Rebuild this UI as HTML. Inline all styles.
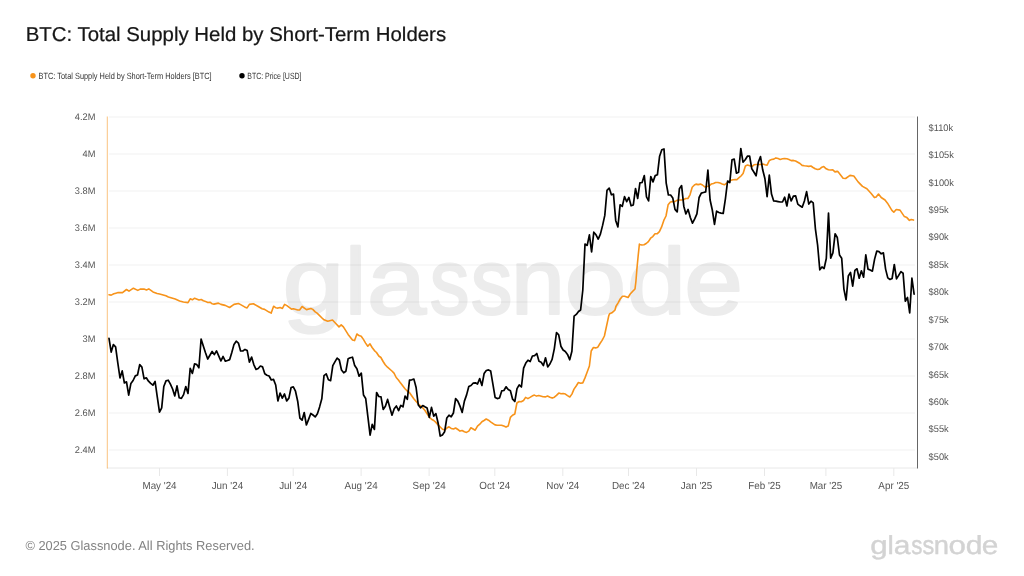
<!DOCTYPE html>
<html lang="en"><head><meta charset="utf-8"><title>BTC: Total Supply Held by Short-Term Holders</title>
<style>
html,body{margin:0;padding:0;background:#fff;}
body{width:1024px;height:576px;overflow:hidden;}
svg{display:block;font-family:"Liberation Sans",Arial,sans-serif;text-rendering:geometricPrecision;}
</style></head><body>
<svg width="1024" height="576" viewBox="0 0 1024 576">
<rect width="1024" height="576" fill="#ffffff"/>
<text y="314" font-size="94.00" fill="#ececec" stroke="#ececec" stroke-width="2.20" stroke-linejoin="round"><tspan x="282.63" textLength="61.83" lengthAdjust="spacingAndGlyphs">g</tspan><tspan x="345.00" textLength="21.16" lengthAdjust="spacingAndGlyphs">l</tspan><tspan x="366.93" textLength="59.12" lengthAdjust="spacingAndGlyphs">a</tspan><tspan x="429.72" textLength="39.72" lengthAdjust="spacingAndGlyphs">s</tspan><tspan x="470.86" textLength="41.68" lengthAdjust="spacingAndGlyphs">s</tspan><tspan x="511.10" textLength="53.85" lengthAdjust="spacingAndGlyphs">n</tspan><tspan x="564.64" textLength="61.72" lengthAdjust="spacingAndGlyphs">o</tspan><tspan x="626.77" textLength="59.36" lengthAdjust="spacingAndGlyphs">d</tspan><tspan x="684.25" textLength="58.70" lengthAdjust="spacingAndGlyphs">e</tspan></text>
<g stroke="#000" stroke-opacity="0.055" stroke-width="1" fill="none">
<line x1="109" x2="915" y1="117.00" y2="117.00"/>
<line x1="109" x2="915" y1="154.00" y2="154.00"/>
<line x1="109" x2="915" y1="191.00" y2="191.00"/>
<line x1="109" x2="915" y1="228.00" y2="228.00"/>
<line x1="109" x2="915" y1="265.00" y2="265.00"/>
<line x1="109" x2="915" y1="302.00" y2="302.00"/>
<line x1="109" x2="915" y1="339.00" y2="339.00"/>
<line x1="109" x2="915" y1="376.00" y2="376.00"/>
<line x1="109" x2="915" y1="413.00" y2="413.00"/>
<line x1="109" x2="915" y1="450.00" y2="450.00"/>
</g>
<g stroke="#e8e8e8" stroke-width="1" fill="none">
<line x1="107" x2="917" y1="468" y2="468"/>
<line x1="159.5" x2="159.5" y1="468" y2="476"/>
<line x1="227.4" x2="227.4" y1="468" y2="476"/>
<line x1="293.2" x2="293.2" y1="468" y2="476"/>
<line x1="361.1" x2="361.1" y1="468" y2="476"/>
<line x1="429.1" x2="429.1" y1="468" y2="476"/>
<line x1="494.8" x2="494.8" y1="468" y2="476"/>
<line x1="562.8" x2="562.8" y1="468" y2="476"/>
<line x1="628.5" x2="628.5" y1="468" y2="476"/>
<line x1="696.5" x2="696.5" y1="468" y2="476"/>
<line x1="764.5" x2="764.5" y1="468" y2="476"/>
<line x1="825.9" x2="825.9" y1="468" y2="476"/>
<line x1="893.8" x2="893.8" y1="468" y2="476"/>
</g>
<line x1="107.3" x2="107.3" y1="116.5" y2="468.5" stroke="#f7931a" stroke-opacity="0.55" stroke-width="1"/>
<line x1="917.5" x2="917.5" y1="116.5" y2="468.5" stroke="#666" stroke-width="1"/>
<path d="M109.0,294.8 L111.2,295.1 L113.8,293.8 L115.9,293.2 L118.1,292.6 L122.5,292.6 L126.5,289.5 L129.0,291.2 L133.4,288.2 L137.8,290.4 L140.2,289.1 L144.0,289.1 L146.5,290.0 L148.8,288.9 L153.0,291.9 L157.1,293.5 L159.6,294.0 L165.9,295.8 L168.4,297.0 L175.2,299.1 L179.6,300.9 L183.4,302.0 L188.0,302.6 L190.2,298.8 L192.4,299.8 L194.6,298.2 L199.0,300.0 L201.2,299.5 L203.4,300.8 L205.5,301.4 L207.8,302.5 L210.0,302.2 L212.2,303.8 L214.0,304.1 L218.4,303.1 L220.9,304.4 L225.2,305.4 L229.6,307.5 L234.0,304.4 L238.4,303.5 L240.2,304.4 L244.6,306.9 L247.1,307.9 L249.4,304.4 L253.4,303.8 L257.8,306.2 L262.1,308.8 L264.6,309.4 L269.0,312.1 L271.2,313.1 L273.6,306.2 L275.9,307.8 L278.0,308.1 L280.2,307.5 L282.4,308.4 L284.6,304.4 L286.9,305.6 L291.5,309.1 L293.4,308.8 L297.8,310.0 L299.6,310.0 L302.1,306.5 L306.5,309.6 L310.9,308.5 L312.8,309.4 L315.2,311.9 L317.1,313.1 L321.5,317.5 L324.0,319.8 L327.8,321.2 L332.5,320.0 L334.6,322.2 L339.0,326.9 L341.2,324.8 L343.4,326.9 L348.1,334.4 L352.5,340.0 L354.6,340.6 L356.9,334.0 L359.0,335.6 L361.2,336.2 L363.4,339.4 L365.6,343.1 L367.8,346.2 L370.0,343.8 L372.1,347.5 L374.4,350.6 L376.5,352.5 L378.8,356.0 L380.9,357.5 L383.1,361.5 L385.2,364.8 L387.5,367.2 L391.9,371.0 L394.0,373.1 L396.2,377.5 L398.4,380.0 L400.6,383.1 L405.0,388.8 L407.2,391.0 L409.4,392.5 L413.8,398.8 L418.1,403.8 L422.5,407.5 L425.0,410.5 L429.4,417.4 L431.5,419.2 L433.8,420.5 L435.9,422.4 L438.1,424.9 L442.5,429.2 L445.0,429.9 L446.9,428.0 L449.0,426.8 L451.2,428.4 L453.5,429.0 L455.6,428.0 L457.9,429.5 L460.0,431.1 L462.1,430.5 L464.4,431.8 L466.5,432.4 L468.8,431.1 L470.9,427.8 L473.1,429.0 L475.2,430.2 L477.5,426.1 L479.8,424.2 L481.9,421.8 L484.0,420.5 L486.2,419.0 L488.5,420.2 L490.6,421.8 L495.0,424.9 L497.2,425.2 L501.5,425.2 L503.8,426.1 L506.0,427.1 L508.2,426.1 L510.4,417.4 L512.5,415.2 L514.8,414.0 L516.9,403.0 L519.1,401.5 L521.2,401.8 L523.5,400.5 L525.6,397.4 L527.9,398.6 L530.0,397.4 L532.1,396.1 L534.4,395.1 L536.5,396.1 L538.8,395.5 L543.1,396.8 L545.6,396.9 L547.5,396.0 L550.0,397.2 L552.2,398.1 L554.4,397.2 L556.5,395.4 L558.8,393.1 L561.0,393.8 L563.1,393.5 L565.4,394.1 L567.5,395.6 L569.8,397.0 L571.9,394.1 L574.0,389.1 L576.2,386.0 L578.4,382.5 L580.6,383.2 L582.8,382.9 L585.0,377.9 L587.1,372.2 L589.4,366.0 L591.2,351.0 L593.4,347.5 L595.6,347.9 L597.8,347.2 L600.0,343.5 L602.1,340.4 L604.4,336.0 L608.8,315.6 L609.6,313.8 L611.9,312.8 L613.8,311.2 L615.0,310.0 L615.9,306.5 L618.1,302.8 L620.2,299.0 L622.5,296.2 L624.6,296.2 L628.1,297.5 L630.2,294.0 L632.5,291.5 L635.0,289.0 L635.9,281.5 L636.9,269.0 L638.1,256.5 L639.4,244.0 L639.6,244.5 L641.9,245.0 L644.0,244.8 L646.2,243.5 L648.4,241.6 L650.6,238.2 L652.8,236.6 L655.0,233.8 L657.1,233.8 L659.4,231.6 L661.5,227.2 L663.8,220.4 L666.0,216.0 L668.1,204.8 L670.4,202.0 L672.5,201.6 L674.8,201.6 L676.9,200.4 L679.1,200.0 L681.2,200.0 L683.5,199.8 L685.6,198.5 L687.9,198.5 L690.0,194.8 L692.2,187.2 L694.4,185.0 L696.0,184.1 L698.1,184.6 L700.4,184.1 L702.5,185.0 L704.8,186.9 L706.9,186.5 L709.1,186.0 L711.2,184.1 L713.5,183.5 L715.6,182.5 L717.9,182.5 L720.0,183.1 L722.2,184.0 L724.4,184.8 L726.6,183.1 L728.8,181.9 L731.0,180.2 L733.1,179.8 L735.4,179.6 L736.6,179.8 L738.8,177.9 L741.0,176.0 L743.1,173.5 L745.4,166.0 L747.5,165.1 L749.8,165.8 L751.9,166.6 L754.0,164.8 L756.2,164.5 L760.6,164.5 L762.8,164.1 L765.0,164.8 L767.1,165.1 L769.4,160.4 L771.5,159.5 L773.8,159.1 L775.9,157.9 L778.1,158.5 L780.2,159.4 L782.5,158.8 L784.6,158.5 L786.9,158.8 L789.0,159.5 L791.2,160.6 L793.4,160.4 L795.6,161.0 L800.0,163.5 L802.1,165.4 L804.4,165.8 L806.5,166.0 L808.8,166.4 L810.9,166.0 L813.1,167.5 L815.2,168.8 L817.5,169.5 L819.6,169.1 L821.9,167.2 L823.8,166.6 L826.2,168.8 L828.4,169.8 L830.6,170.0 L832.8,169.8 L835.0,171.9 L837.1,171.4 L838.0,171.6 L839.4,173.5 L843.1,178.2 L845.6,178.5 L850.0,175.4 L853.8,176.0 L858.1,181.9 L862.5,186.4 L866.9,188.8 L871.2,193.5 L874.4,197.6 L876.2,197.0 L878.5,194.1 L881.2,197.5 L885.0,200.0 L887.5,203.2 L891.9,210.4 L893.8,212.2 L896.2,209.5 L900.0,210.1 L904.4,216.6 L906.9,217.6 L909.4,220.4 L911.2,219.5 L913.5,220.1" fill="none" stroke="#f7931a" stroke-width="1.6" stroke-linejoin="round" stroke-linecap="round"/>
<path d="M109.0,338.4 L111.2,352.1 L113.4,344.6 L115.6,346.8 L117.8,362.8 L120.0,378.0 L122.2,370.9 L124.4,383.0 L126.5,381.8 L128.7,395.2 L130.9,383.4 L133.1,380.5 L135.3,375.9 L137.5,375.0 L139.7,364.6 L141.9,367.1 L144.1,378.8 L146.3,377.8 L148.5,381.2 L150.7,383.4 L152.9,385.2 L155.1,381.5 L157.3,397.1 L159.5,412.1 L161.7,407.8 L163.8,386.5 L166.0,380.9 L168.2,380.2 L170.4,384.2 L172.6,389.0 L174.8,395.9 L177.0,385.9 L179.2,397.8 L181.4,398.4 L183.6,394.6 L185.8,386.5 L188.0,393.4 L190.2,368.4 L192.4,373.4 L194.6,363.8 L196.8,364.6 L198.9,367.8 L201.1,339.0 L203.3,345.9 L205.5,352.8 L207.7,359.0 L209.9,355.2 L212.1,351.5 L214.3,354.6 L216.5,350.9 L218.7,355.9 L220.9,360.9 L223.1,356.5 L225.3,361.2 L227.5,360.5 L229.7,359.6 L231.8,352.5 L234.0,344.4 L236.2,341.2 L238.4,343.1 L240.6,351.0 L242.8,351.0 L245.0,349.4 L247.2,350.6 L249.4,362.2 L251.6,357.1 L253.8,364.6 L256.0,369.4 L258.2,368.5 L260.4,366.0 L262.6,366.9 L264.8,373.8 L266.9,375.2 L269.1,376.0 L271.3,380.0 L273.5,379.4 L275.7,385.0 L277.9,401.0 L280.1,393.1 L282.3,398.1 L284.5,394.0 L286.7,400.9 L288.9,398.1 L291.1,387.5 L293.3,386.9 L295.5,391.2 L297.7,401.2 L299.9,418.1 L302.1,420.2 L304.2,412.5 L306.4,425.0 L308.6,419.4 L310.8,413.5 L313.0,415.0 L315.2,416.9 L317.4,413.8 L319.6,406.9 L321.8,398.8 L324.0,375.6 L326.2,373.8 L328.4,379.8 L330.6,380.6 L332.8,365.6 L334.9,361.9 L337.1,358.1 L339.3,360.0 L341.5,370.0 L343.7,372.8 L345.9,371.2 L348.1,358.8 L350.3,357.8 L352.5,357.2 L354.7,365.6 L356.9,368.8 L359.1,376.2 L361.3,373.1 L363.5,395.0 L365.7,398.5 L367.9,416.9 L370.1,435.2 L372.2,424.4 L374.4,429.4 L376.6,392.5 L378.8,396.5 L381.0,396.9 L383.2,409.4 L385.4,406.2 L387.6,399.4 L389.8,407.5 L392.0,415.2 L394.2,408.8 L396.4,406.0 L398.6,410.6 L400.8,405.4 L403.0,406.9 L405.1,396.0 L407.3,399.4 L409.5,380.2 L411.7,379.8 L413.9,379.1 L416.1,387.5 L418.3,405.0 L420.5,407.8 L422.7,405.5 L424.9,406.8 L427.1,408.0 L429.3,417.4 L431.5,407.4 L433.7,416.1 L435.9,413.6 L438.1,423.0 L440.2,436.1 L442.4,434.9 L444.6,431.8 L446.8,418.0 L449.0,415.2 L451.2,416.8 L453.4,413.0 L455.6,398.6 L457.8,401.1 L460.0,406.1 L462.2,412.4 L464.4,401.1 L466.6,394.9 L468.8,386.5 L471.0,385.5 L473.1,383.2 L475.4,382.8 L477.5,384.0 L479.7,378.6 L481.9,385.5 L484.1,373.6 L486.3,370.5 L488.5,369.9 L490.7,371.1 L492.9,384.2 L495.1,397.4 L497.3,398.6 L499.5,398.0 L501.7,390.9 L503.9,390.5 L506.1,386.8 L508.2,389.5 L510.4,390.8 L512.6,399.2 L514.8,401.5 L517.0,388.6 L519.2,384.9 L521.4,387.0 L523.6,368.1 L525.8,363.1 L528.0,360.2 L530.2,361.5 L532.4,356.0 L534.6,355.6 L536.8,353.5 L539.0,361.2 L541.2,362.2 L543.4,365.6 L545.5,357.8 L547.7,366.9 L549.9,364.0 L552.1,359.4 L554.3,348.8 L556.5,332.5 L558.7,334.8 L560.9,346.2 L563.1,350.0 L565.3,351.5 L567.5,354.4 L569.7,359.8 L571.9,351.2 L574.1,316.2 L576.3,314.4 L578.5,311.5 L580.6,310.0 L582.8,290.0 L585.0,244.1 L587.2,245.4 L589.4,234.8 L591.6,252.0 L593.8,232.2 L596.0,234.8 L598.2,239.1 L600.4,234.1 L602.6,225.4 L604.8,215.4 L607.0,190.4 L609.2,188.1 L611.4,194.8 L613.5,194.1 L615.7,220.4 L617.9,227.0 L620.1,204.8 L622.3,206.4 L624.5,196.6 L626.7,201.6 L628.9,197.5 L631.1,205.8 L633.3,205.0 L635.5,188.5 L637.7,198.5 L639.9,182.9 L642.1,182.5 L644.3,175.6 L646.5,196.9 L648.6,200.9 L650.8,176.5 L653.0,181.9 L655.2,175.6 L657.4,174.8 L659.6,156.2 L661.8,149.8 L664.0,149.0 L666.2,183.1 L668.4,195.0 L670.6,195.0 L672.8,198.1 L675.0,209.4 L677.2,211.9 L679.4,188.8 L681.6,185.6 L683.8,206.2 L685.9,214.0 L688.1,209.4 L690.3,217.5 L692.5,223.1 L694.7,218.8 L696.9,213.8 L699.1,197.5 L701.3,193.1 L703.5,192.5 L705.7,191.9 L707.9,170.0 L710.1,200.0 L712.3,210.0 L714.5,224.4 L716.6,211.2 L718.9,212.5 L721.0,213.1 L723.2,213.5 L725.4,198.8 L727.6,181.0 L729.8,182.5 L732.0,159.8 L734.2,159.1 L736.4,173.2 L738.6,172.2 L740.8,148.5 L743.0,162.2 L745.2,159.8 L747.4,156.2 L749.6,156.0 L751.8,168.8 L754.0,172.2 L756.1,175.8 L758.3,162.2 L760.5,156.6 L762.7,169.8 L764.9,178.5 L767.1,196.6 L769.3,175.0 L771.5,194.1 L773.7,201.0 L775.9,201.2 L778.1,201.6 L780.3,202.0 L782.5,202.0 L784.7,197.2 L786.9,206.0 L789.0,194.1 L791.2,201.0 L793.4,196.2 L795.6,195.8 L797.8,204.1 L800.0,205.8 L802.2,207.2 L804.4,201.0 L806.6,191.6 L808.8,204.1 L811.0,201.2 L813.2,202.9 L815.4,228.8 L817.6,245.0 L819.8,269.8 L822.0,267.0 L824.1,268.5 L826.3,258.5 L828.5,213.1 L830.7,258.2 L832.9,252.9 L835.1,233.8 L837.3,237.5 L839.5,255.0 L841.7,258.2 L843.9,289.1 L846.1,300.0 L848.3,276.0 L850.5,272.5 L852.7,286.2 L854.9,270.4 L857.0,268.8 L859.2,278.2 L861.4,270.8 L863.6,277.2 L865.8,254.8 L868.0,269.1 L870.2,270.0 L872.4,271.2 L874.6,259.1 L876.8,251.0 L879.0,251.6 L881.2,253.8 L883.4,252.9 L885.6,269.1 L887.8,277.9 L890.0,279.5 L892.1,278.5 L894.3,264.5 L896.5,278.8 L898.7,275.4 L900.9,271.6 L903.1,273.2 L905.3,301.2 L907.5,297.5 L909.7,312.9 L911.9,278.2 L914.1,294.1" fill="none" stroke="#000" stroke-width="1.7" stroke-linejoin="round" stroke-linecap="round"/>
<g font-size="9.6" fill="#555" text-anchor="end">
<text transform="translate(95.4,119.5) scale(0.965,1)">4.2M</text>
<text transform="translate(95.4,156.5) scale(0.965,1)">4M</text>
<text transform="translate(95.4,193.5) scale(0.965,1)">3.8M</text>
<text transform="translate(95.4,230.5) scale(0.965,1)">3.6M</text>
<text transform="translate(95.4,267.5) scale(0.965,1)">3.4M</text>
<text transform="translate(95.4,304.5) scale(0.965,1)">3.2M</text>
<text transform="translate(95.4,341.5) scale(0.965,1)">3M</text>
<text transform="translate(95.4,378.5) scale(0.965,1)">2.8M</text>
<text transform="translate(95.4,415.5) scale(0.965,1)">2.6M</text>
<text transform="translate(95.4,452.5) scale(0.965,1)">2.4M</text>
</g>
<g font-size="9.6" fill="#555">
<text transform="translate(928.6,130.6) scale(0.965,1)">$110k</text>
<text transform="translate(928.6,158.0) scale(0.965,1)">$105k</text>
<text transform="translate(928.6,185.5) scale(0.965,1)">$100k</text>
<text transform="translate(928.6,212.9) scale(0.965,1)">$95k</text>
<text transform="translate(928.6,240.4) scale(0.965,1)">$90k</text>
<text transform="translate(928.6,267.8) scale(0.965,1)">$85k</text>
<text transform="translate(928.6,295.2) scale(0.965,1)">$80k</text>
<text transform="translate(928.6,322.7) scale(0.965,1)">$75k</text>
<text transform="translate(928.6,350.1) scale(0.965,1)">$70k</text>
<text transform="translate(928.6,377.6) scale(0.965,1)">$65k</text>
<text transform="translate(928.6,405.0) scale(0.965,1)">$60k</text>
<text transform="translate(928.6,432.4) scale(0.965,1)">$55k</text>
<text transform="translate(928.6,459.9) scale(0.965,1)">$50k</text>
</g>
<g font-size="10.3" fill="#555" text-anchor="middle">
<text transform="translate(159.5,489.3) scale(0.955,1)">May '24</text>
<text transform="translate(227.4,489.3) scale(0.955,1)">Jun '24</text>
<text transform="translate(293.2,489.3) scale(0.955,1)">Jul '24</text>
<text transform="translate(361.1,489.3) scale(0.955,1)">Aug '24</text>
<text transform="translate(429.1,489.3) scale(0.955,1)">Sep '24</text>
<text transform="translate(494.8,489.3) scale(0.955,1)">Oct '24</text>
<text transform="translate(562.8,489.3) scale(0.955,1)">Nov '24</text>
<text transform="translate(628.5,489.3) scale(0.955,1)">Dec '24</text>
<text transform="translate(696.5,489.3) scale(0.955,1)">Jan '25</text>
<text transform="translate(764.5,489.3) scale(0.955,1)">Feb '25</text>
<text transform="translate(825.9,489.3) scale(0.955,1)">Mar '25</text>
<text transform="translate(893.8,489.3) scale(0.955,1)">Apr '25</text>
</g>
<text x="25.7" y="41.4" font-size="20" fill="#161616" stroke="#161616" stroke-width="0.22" textLength="420.4" lengthAdjust="spacingAndGlyphs">BTC: Total Supply Held by Short-Term Holders</text>
<circle cx="33" cy="75.7" r="2.7" fill="#f7931a"/>
<text x="38.6" y="78.8" font-size="9" fill="#333" textLength="173" lengthAdjust="spacingAndGlyphs">BTC: Total Supply Held by Short-Term Holders [BTC]</text>
<circle cx="242" cy="75.7" r="2.7" fill="#000"/>
<text x="247.3" y="78.8" font-size="9" fill="#333" textLength="54.2" lengthAdjust="spacingAndGlyphs">BTC: Price [USD]</text>
<text x="25.4" y="550" font-size="13" fill="#828282" textLength="229.2" lengthAdjust="spacingAndGlyphs">© 2025 Glassnode. All Rights Reserved.</text>
<text y="554" font-size="26.09" fill="#d3d3d3" stroke="#d3d3d3" stroke-width="0.40" stroke-linejoin="round"><tspan x="870.32" textLength="17.46" lengthAdjust="spacingAndGlyphs">g</tspan><tspan x="887.55" textLength="6.33" lengthAdjust="spacingAndGlyphs">l</tspan><tspan x="893.73" textLength="16.70" lengthAdjust="spacingAndGlyphs">a</tspan><tspan x="911.20" textLength="11.22" lengthAdjust="spacingAndGlyphs">s</tspan><tspan x="922.61" textLength="11.78" lengthAdjust="spacingAndGlyphs">s</tspan><tspan x="933.75" textLength="15.22" lengthAdjust="spacingAndGlyphs">n</tspan><tspan x="948.61" textLength="17.42" lengthAdjust="spacingAndGlyphs">o</tspan><tspan x="965.86" textLength="16.77" lengthAdjust="spacingAndGlyphs">d</tspan><tspan x="981.82" textLength="16.57" lengthAdjust="spacingAndGlyphs">e</tspan></text>
</svg>
</body></html>
